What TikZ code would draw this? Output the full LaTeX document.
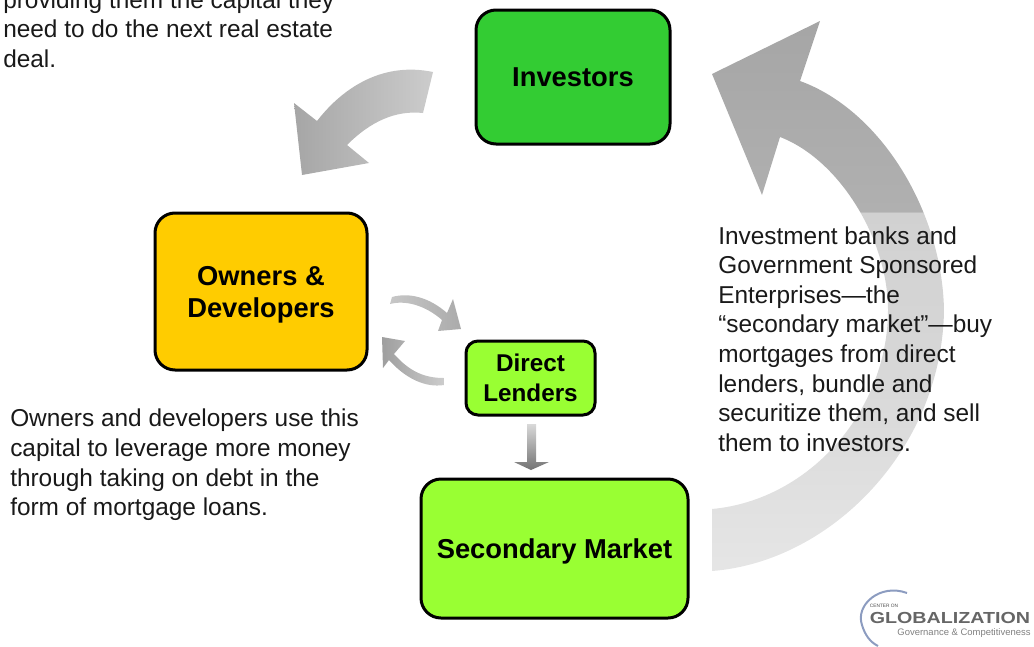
\documentclass[tikz,border=0pt]{standalone}
\usepackage{fontspec}
\setmainfont{Liberation Sans}
\usepackage{tikz}
\definecolor{investgreen}{HTML}{33CC33}
\definecolor{ownerorange}{HTML}{FFCC00}
\definecolor{lendergreen}{HTML}{99FF33}
\definecolor{logoblue}{HTML}{8C9CC0}
\pgfdeclareverticalshading{bigarrowshade}{100bp}{color(0bp)=(black!10);color(25bp)=(black!10);color(45bp)=(black!16);color(57.55bp)=(black!18);color(57.7bp)=(black!31);color(75bp)=(black!35);color(100bp)=(black!35)}

\begin{document}
\begin{tikzpicture}[x=0.75pt,y=-0.75pt,
    block/.style={draw=black,line width=2.25pt,rounded corners=15pt,align=center,inner sep=0pt,text depth=0pt,font=\fontsize{20.5}{24}\selectfont\bfseries},
    note/.style={anchor=west,align=left,inner sep=0pt,color=black!90,font=\fontsize{18.3}{22.2}\selectfont}]
            \useasboundingbox (0,0) rectangle (1034,646);
            % big arrow
            \path[shading=bigarrowshade]
                (712,571) .. controls (830,562) and (942,450) .. (944,310)
                .. controls (942,210) and (880,110) .. (800,81)
                -- (820,21) -- (712,74) -- (762,195) -- (780,137)
                .. controls (840,160) and (888,240) .. (888,310)
                .. controls (888,410) and (810,500) .. (712,509) -- cycle;
            % arrows on the left
            \path[left color=black!35,right color=black!20]
                (433,72) .. controls (385,62) and (345,85) .. (317,121)
                -- (294,103) -- (302,175) -- (369,163) -- (347,145)
                .. controls (370,122) and (395,110) .. (423,113) -- cycle;
            \path[left color=black!22,right color=black!33]
                (390,304) .. controls (405,300) and (425,305) .. (442,320)
                -- (438,331) -- (461,329) -- (453,299) -- (447,313)
                .. controls (430,298) and (410,292) .. (392,297) -- cycle;
            \path[left color=black!38,right color=black!20]
                (444,378) .. controls (425,378) and (410,372) .. (394,354)
                -- (405,341) -- (382,337) -- (383,368) -- (389,360)
                .. controls (405,378) and (425,388) .. (444,385) -- cycle;
            \path[top color=black!15,bottom color=black!55]
                (527,424) -- (536,424) -- (536,462) -- (549,462) -- (531,470)
                -- (514,462) -- (527,462) -- cycle;
            % boxes
            \node[block,fill=investgreen,minimum width=145.5pt,minimum height=100.5pt] (investors) at (573,77) {Investors};
            \node[block,fill=ownerorange,minimum width=159pt,minimum height=117.75pt] (owners) at (261,291.5) {Owners \&~\\Developers};
            \node[block,fill=lendergreen,rounded corners=9pt,minimum width=96.75pt,minimum height=55.5pt,font=\fontsize{18.2}{22.5}\selectfont\bfseries] (lenders) at (530.5,378) {Direct~\\Lenders};
            \node[block,fill=lendergreen,minimum width=200.25pt,minimum height=104.25pt] (secondary) at (554.5,548.5) {Secondary Market};
            % notes
            \node[note] (capitalnote) at (3,29) {providing them the capital they\\need to do the next real estate\\deal.};
            \node[note] (debtnote) at (10,465) {Owners and developers use this\\capital to leverage more money\\through taking on debt in the\\form of mortgage loans.};
            \node[note] (marketnote) at (718,339) {Investment banks and\\Government Sponsored\\Enterprises—the\\“secondary market”—buy\\mortgages from direct\\lenders, bundle and\\securitize them, and sell\\them to investors.};
            % logo
            \draw[line width=1.5pt,color=logoblue] (907,593) .. controls (880,583) and (855,605) .. (862,625) .. controls (865,635) and (870,642) .. (878,646);
            \node[inner sep=0pt,color=black!70,font=\fontsize{3.6}{4}\selectfont] (logotop) at (884,606) {CENTER ON};
            \node[inner sep=0pt,color=black!60,font=\fontsize{12}{14}\selectfont\bfseries] (logoname) at (950,618) {\scalebox{1.23}[1]{GLOBALIZATION}};
            \node[inner sep=0pt,color=black!50,font=\fontsize{7.1}{9}\selectfont] (logosub) at (964,633) {Governance \& Competitiveness};
\end{tikzpicture}
\end{document}
